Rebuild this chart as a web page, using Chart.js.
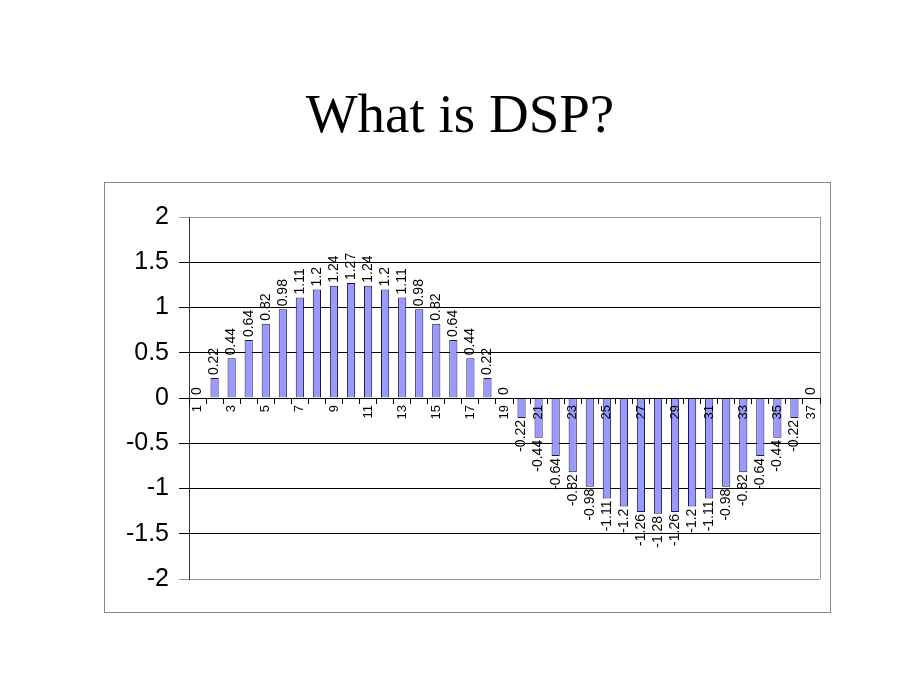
<!DOCTYPE html>
<html>
<head>
<meta charset="utf-8">
<script src="https://cdn.jsdelivr.net/npm/chart.js@4"></script>
<style>
  body { margin: 0; background: #fff; }
  #title {
    position: absolute; left: 0; top: 82px; width: 920px; text-align: center;
    font-family: "Liberation Serif", "Times New Roman", serif; font-size: 55px; color: #000;
  }
  #box {
    position: absolute; left: 104px; top: 182px; width: 725px; height: 429px;
    border: 1px solid #888;
  }
</style>
</head>
<body>
<div id="title">What is DSP?</div>
<div id="box"><canvas id="dsp" width="725" height="429"></canvas></div>
<script>
// samples 1..37 of the sine wave
var categories = ['1','2','3','4','5','6','7','8','9','10','11','12','13','14','15','16','17','18','19',
    '20','21','22','23','24','25','26','27','28','29','30','31','32','33','34','35','36','37'];
var values = [0, 0.22, 0.44, 0.64, 0.82, 0.98, 1.11, 1.2, 1.24, 1.27, 1.24, 1.2, 1.11, 0.98, 0.82, 0.64, 0.44, 0.22, 0,
    -0.22, -0.44, -0.64, -0.82, -0.98, -1.11, -1.2, -1.26, -1.28, -1.26, -1.2, -1.11, -0.98, -0.82, -0.64, -0.44, -0.22, 0];
var yTicks = [-2, -1.5, -1, -0.5, 0, 0.5, 1, 1.5, 2];

var FONT = '"Liberation Sans", Arial, sans-serif';

// rotated value labels on each bar
var valueLabels = {
    id: 'valueLabels',
    afterDraw: function(chart) {
        var ctx = chart.ctx;
        var meta = chart.getDatasetMeta(0);
        ctx.save();
        ctx.font = '14px ' + FONT;
        ctx.fillStyle = '#000';
        ctx.textBaseline = 'middle';
        meta.data.forEach(function(bar, i) {
            var v = values[i];
            ctx.save();
            if (v >= 0) {
                ctx.translate(bar.x, bar.y - 3);
                ctx.rotate(-Math.PI / 2);
                ctx.textAlign = 'left';
            } else {
                ctx.translate(bar.x, bar.y + 2);
                ctx.rotate(-Math.PI / 2);
                ctx.textAlign = 'right';
            }
            ctx.fillText(String(v), 0, 0);
            ctx.restore();
        });
        ctx.restore();
    }
};

// grey right edge of the plot area
var plotEdge = {
    id: 'plotEdge',
    beforeDatasetsDraw: function(chart) {
        var a = chart.chartArea, ctx = chart.ctx;
        ctx.save();
        ctx.strokeStyle = '#999';
        ctx.lineWidth = 1;
        ctx.beginPath();
        ctx.moveTo(a.right + 0.5, a.top);
        ctx.lineTo(a.right + 0.5, a.bottom);
        ctx.stroke();
        ctx.restore();
    }
};

new Chart(document.getElementById('dsp'), {
    type: 'bar',
    data: {
        labels: categories,
        datasets: [{
            data: values,
            backgroundColor: '#9999ff',
            borderColor: '#1a1a40',
            borderWidth: 1,
            barPercentage: 0.48,
            categoryPercentage: 1
        }]
    },
    options: {
        responsive: false,
        animation: false,
        layout: { padding: { left: 0, right: 10, top: 34, bottom: 33 } },
        plugins: { legend: { display: false }, tooltip: { enabled: false } },
        scales: {
            x: {
                position: { y: 0 },
                grid: { display: true, drawOnChartArea: false, drawTicks: true, tickLength: 5, color: '#000', offset: true, z: 1 },
                border: { display: true, color: '#000', width: 1, z: 1 },
                ticks: {
                    autoSkip: false, minRotation: 90, maxRotation: 90, padding: 2, z: 1,
                    color: '#000', font: { family: FONT, size: 13 },
                    callback: function(val, i) { return i % 2 === 0 ? categories[i] : ''; }
                }
            },
            y: {
                min: -2, max: 2,
                afterFit: function(scale) { scale.width = 84; },
                afterBuildTicks: function(scale) {
                    scale.ticks = yTicks.map(function(v) { return { value: v }; });
                },
                grid: {
                    tickLength: 10,
                    color: function(c) { return Math.abs(c.tick.value) === 2 ? '#999' : '#000'; }
                },
                border: { display: true, color: '#333', width: 1 },
                ticks: {
                    color: '#000', padding: 10, font: { family: FONT, size: 25 },
                    callback: function(v) { return String(v); }
                }
            }
        }
    },
    plugins: [valueLabels, plotEdge]
});
</script>
</body>
</html>
